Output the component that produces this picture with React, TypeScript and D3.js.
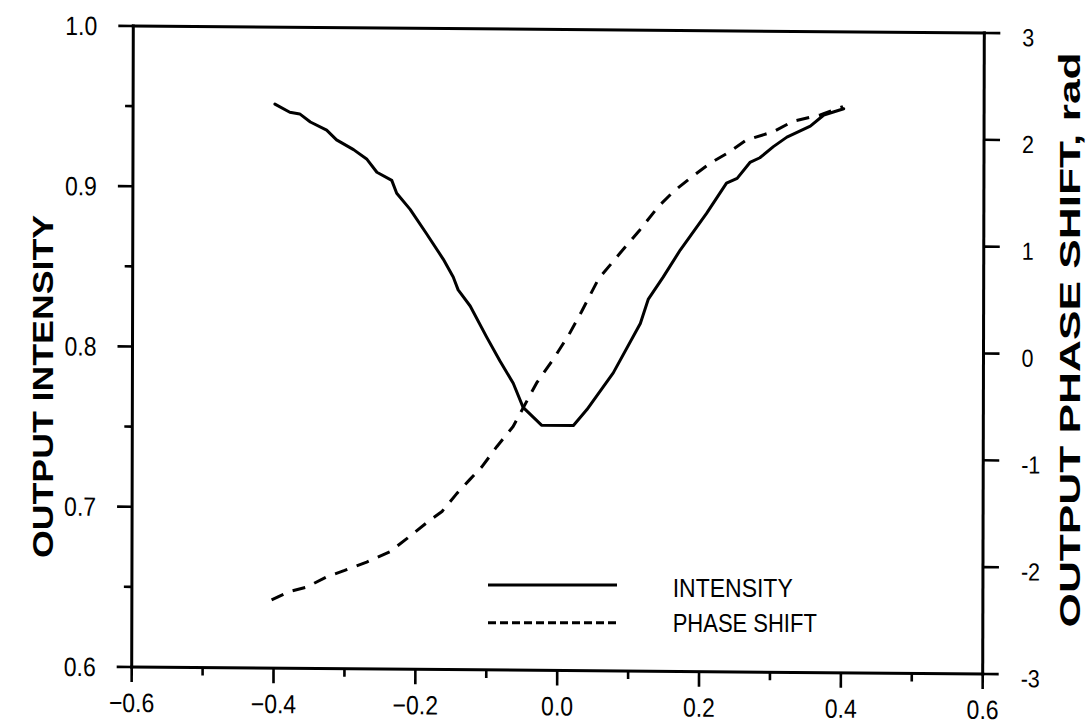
import React from "react";
import * as d3 from "d3";

const intensityX = [-0.400, -0.379, -0.365, -0.350, -0.327, -0.313, -0.289, -0.270, -0.256, -0.235, -0.228, -0.209, -0.186, -0.162, -0.148, -0.141, -0.124, -0.101, -0.082, -0.063, -0.049, -0.023, 0.022, 0.041, 0.078, 0.116, 0.127, 0.148, 0.172, 0.209, 0.237, 0.252, 0.270, 0.284, 0.303, 0.322, 0.355, 0.374, 0.402];
const intensityY = [0.952, 0.947, 0.946, 0.941, 0.936, 0.930, 0.924, 0.918, 0.910, 0.905, 0.897, 0.887, 0.872, 0.856, 0.845, 0.837, 0.827, 0.808, 0.793, 0.779, 0.764, 0.753, 0.753, 0.763, 0.786, 0.817, 0.832, 0.846, 0.863, 0.886, 0.905, 0.908, 0.918, 0.921, 0.928, 0.934, 0.941, 0.948, 0.952];

const phaseX = [-0.403, -0.377, -0.354, -0.325, -0.300, -0.269, -0.236, -0.213, -0.185, -0.163, -0.142, -0.124, -0.107, -0.086, -0.063, -0.030, -0.007, 0.015, 0.033, 0.057, 0.087, 0.115, 0.141, 0.162, 0.186, 0.214, 0.237, 0.265, 0.303, 0.331, 0.369, 0.401];
const phaseY = [-2.36, -2.28, -2.24, -2.14, -2.08, -2.00, -1.90, -1.78, -1.63, -1.52, -1.35, -1.22, -1.10, -0.91, -0.72, -0.31, -0.09, 0.14, 0.36, 0.67, 0.91, 1.13, 1.35, 1.49, 1.62, 1.76, 1.85, 1.98, 2.06, 2.16, 2.22, 2.30];

const xMajorTicks = [-0.6, -0.4, -0.2, 0.0, 0.2, 0.4, 0.6];
const xMinorTicks = [-0.5, -0.3, -0.1, 0.1, 0.3, 0.5];
const yLeftMajor = [0.6, 0.7, 0.8, 0.9, 1.0];
const yLeftMinor = [0.65, 0.75, 0.85, 0.95];
const yRightMajor = [-3, -2, -1, 0, 1, 2, 3];

const legendItems = ["INTENSITY", "PHASE SHIFT"];
const leftTitle = "OUTPUT INTENSITY";
const rightTitle = "OUTPUT PHASE SHIFT, rad";

const W = 851;
const H = 641;
const SY = 1.15;
const FONT = "'Liberation Sans', Arial, Helvetica, sans-serif";

export default function App() {
  const x = d3.scaleLinear().domain([-0.6, 0.6]).range([0, W]);
  const yL = d3.scaleLinear().domain([0.6, 1.0]).range([H, 0]);
  const yR = d3.scaleLinear().domain([-3, 3]).range([H, 0]);

  const intensityLine = d3
    .line<number>()
    .x((_, i) => x(intensityX[i]))
    .y((d) => yL(d))(intensityY) as string;
  const phaseLine = d3
    .line<number>()
    .x((_, i) => x(phaseX[i]))
    .y((d) => yR(d))(phaseY) as string;

  const sw = 3;
  const fmt = d3.format(".1f");

  return (
    <svg
      width={1089}
      height={724}
      style={{ position: "absolute", left: 0, top: 0, background: "#fff" }}
      fontFamily={FONT}
    >
      <rect width={1089} height={724} fill="#fff" />
      <g transform={`matrix(1, 0.0082, -0.0025, 1, 133.3, 26)`}>
        {/* frame */}
        <g stroke="#000" strokeWidth={sw} strokeLinecap="square" fill="none">
          <line x1={0} y1={0} x2={W} y2={0} />
          <line x1={0} y1={H} x2={W} y2={H} />
          <line x1={0} y1={0} x2={0} y2={H} />
          <line x1={W} y1={0} x2={W} y2={H} />
        </g>
        {/* ticks */}
        <g stroke="#000" strokeWidth={2.6}>
          {yLeftMajor.map((v) => (
            <line key={"lm" + v} x1={-15} y1={yL(v)} x2={0} y2={yL(v)} />
          ))}
          {yLeftMinor.map((v) => (
            <line key={"ln" + v} x1={-8} y1={yL(v)} x2={0} y2={yL(v)} />
          ))}
          {xMajorTicks.map((v) => (
            <line key={"bm" + v} x1={x(v)} y1={H} x2={x(v)} y2={H + 15} />
          ))}
          {xMinorTicks.map((v) => (
            <line key={"bn" + v} x1={x(v)} y1={H} x2={x(v)} y2={H + 8} />
          ))}
          {yRightMajor.map((v) => (
            <line key={"rm" + v} x1={W} y1={yR(v)} x2={W + 16} y2={yR(v)} />
          ))}
        </g>
        {/* tick labels */}
        <g fill="#000" fontSize={23}>
          {yLeftMajor.map((v) => (
            <text
              key={"tl" + v}
              transform={`translate(-36, ${yL(v)}) scale(1, ${SY})`}
              y={8.2}
              textAnchor="end"
            >
              {fmt(v)}
            </text>
          ))}
          {xMajorTicks.map((v) => (
            <text
              key={"tb" + v}
              transform={`translate(${x(v)}, ${H + 45}) scale(1, ${SY})`}
              textAnchor="middle"
            >
              {fmt(v)}
            </text>
          ))}
        </g>
        <g fill="#000" fontSize={21.5}>
          {yRightMajor.map((v) => (
            <text
              key={"tr" + v}
              transform={`translate(${W + 38}, ${yR(v) + 4}) scale(1, ${SY})`}
              y={7.7}
              textAnchor="start"
            >
              {String(v)}
            </text>
          ))}
        </g>
        {/* curves */}
        <path d={intensityLine} fill="none" stroke="#000" strokeWidth={3} strokeLinejoin="round" strokeLinecap="round" />
        <path d={phaseLine} fill="none" stroke="#000" strokeWidth={3} strokeDasharray="13,10" strokeLinejoin="round" />
      </g>

      {/* legend */}
      <line x1={488} y1={585} x2={617} y2={585} stroke="#000" strokeWidth={3} />
      <line x1={488} y1={622.7} x2={617} y2={622.7} stroke="#000" strokeWidth={3} strokeDasharray="8,4" />
      <g fill="#000" fontSize={23}>
        <text transform={`translate(672.7, 596.5) scale(1, ${SY})`}>{legendItems[0]}</text>
        <text transform={`translate(672.7, 632) scale(1, ${SY})`} fontSize={22}>{legendItems[1]}</text>
      </g>

      {/* axis titles */}
      <text
        transform="translate(53, 386.5) rotate(-90)"
        textAnchor="middle"
        fontWeight="bold"
        fontSize={30}
        textLength={343}
        lengthAdjust="spacingAndGlyphs"
        fill="#000"
      >
        {leftTitle}
      </text>
      <text
        transform="translate(1080, 340) rotate(-90)"
        textAnchor="middle"
        fontWeight="bold"
        fontSize={30}
        textLength={575}
        lengthAdjust="spacingAndGlyphs"
        fill="#000"
      >
        {rightTitle}
      </text>
    </svg>
  );
}
